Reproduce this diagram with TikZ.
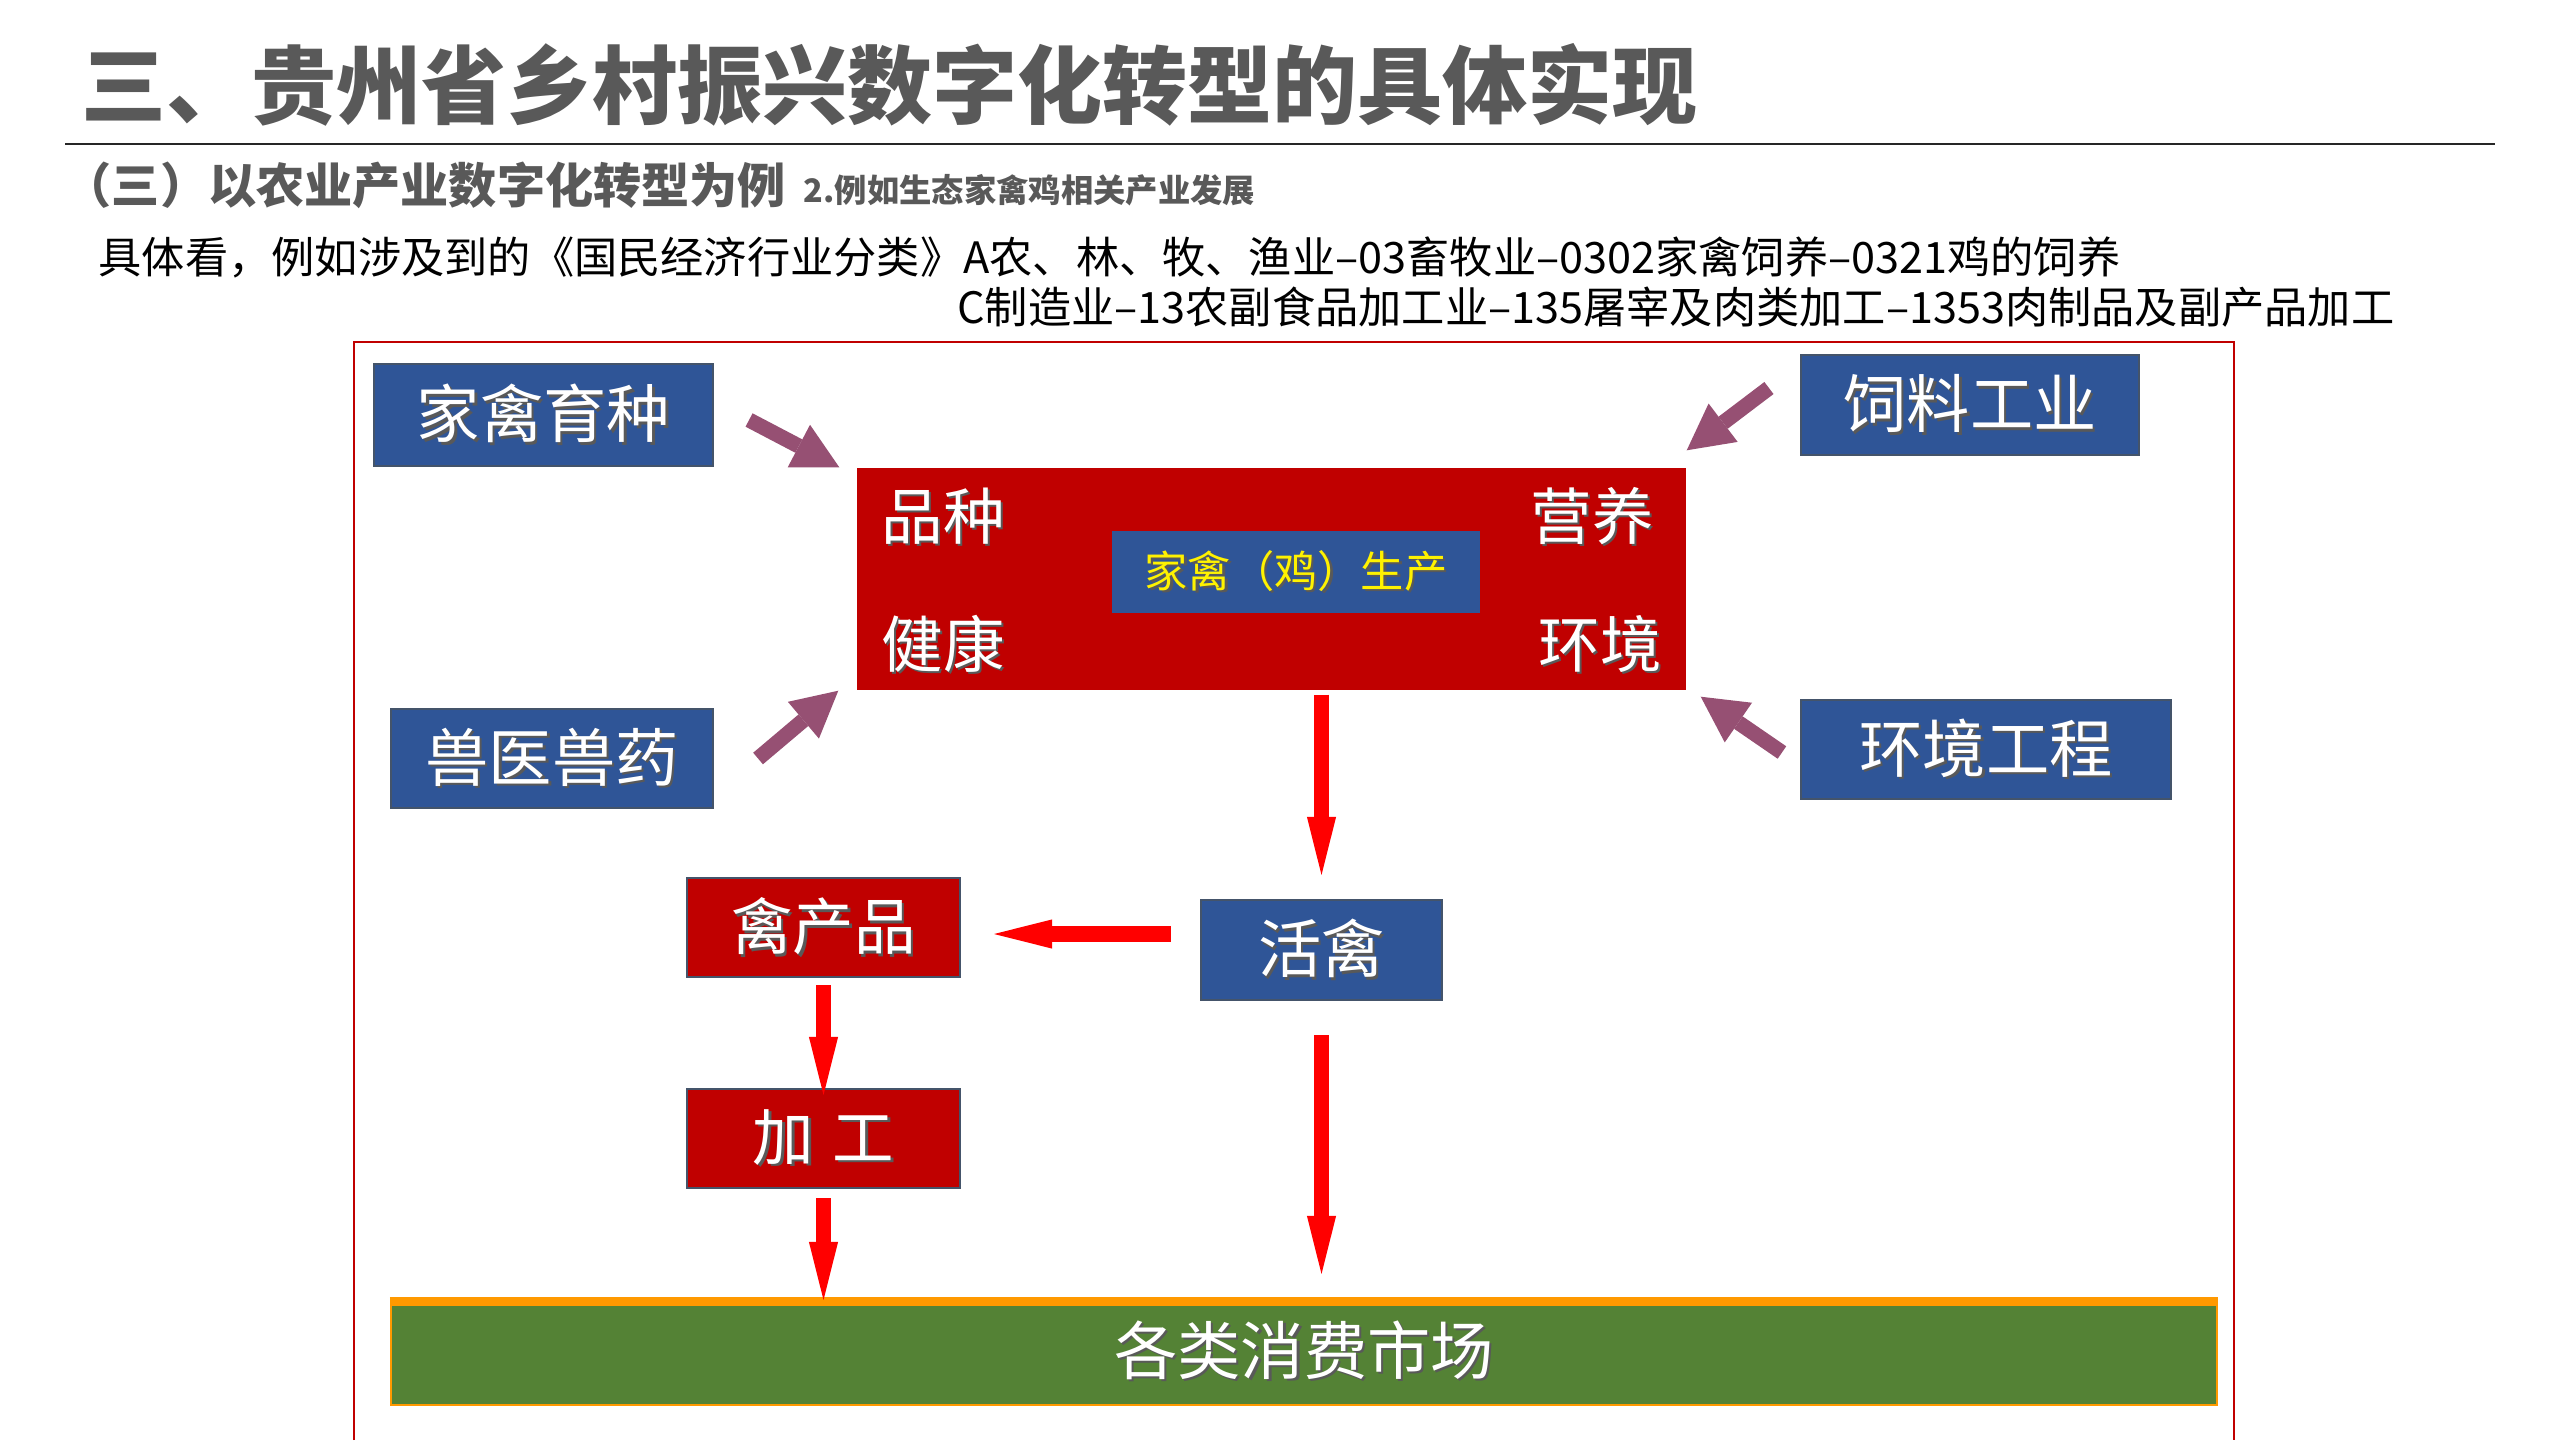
\documentclass[tikz,border=0pt]{standalone}
\usepackage{fontspec}
\setmainfont{Noto Sans CJK SC}
\usetikzlibrary{arrows.meta}
\definecolor{titlegray}{RGB}{89,89,89}
\definecolor{boxblue}{RGB}{47,85,151}
\definecolor{boxedge}{RGB}{68,84,106}
\definecolor{darkred}{RGB}{192,0,0}
\definecolor{plum}{RGB}{150,80,115}
\definecolor{marketgreen}{RGB}{84,130,53}
\definecolor{marketorange}{RGB}{255,153,0}
\newcommand\shad[1]{\makebox[0pt][l]{\kern0.7pt\raisebox{-0.7pt}{\textcolor{black!65}{#1}}}#1}

\begin{document}
\begin{tikzpicture}[
    bluebox/.style={draw=boxedge,line width=0.6pt,fill=boxblue,text=white,inner sep=0pt,font=\fontsize{18}{20}\selectfont},
    redbox/.style={draw=boxedge,line width=0.6pt,fill=darkred,text=white,inner sep=0pt,font=\fontsize{17.5}{20}\selectfont},
    cornerlabel/.style={text=white,inner sep=0pt,font=\fontsize{17.5}{20}\selectfont},
    inarrow/.style={draw=plum,line width=4.3pt,-{Triangle[width=13.7pt,length=13pt,line width=0pt]}},
    flowarrow/.style={draw=red,line width=4.5pt,-{Triangle[width=8.3pt,length=16.5pt,line width=0pt]}}]
    \useasboundingbox (0,0) rectangle (25.6,-14.4);
    \node[anchor=west,inner sep=0pt,text=titlegray,font=\fontsize{24.2}{28}\selectfont\bfseries] (title) at (0.81,-0.85) {三、贵州省乡村振兴数字化转型的具体实现};
    \draw[line width=0.5pt,black!85] (0.65,-1.44) -- (24.95,-1.44);
    \node[anchor=west,inner sep=0pt,text=titlegray,font=\fontsize{13.7}{16}\selectfont\bfseries] (sub) at (0.63,-1.85) {（三）以农业产业数字化转型为例};
    \node[anchor=west,inner sep=0pt,text=titlegray,font=\fontsize{9.2}{11}\selectfont\bfseries] (subb) at (8.03,-1.90) {2.例如生态家禽鸡相关产业发展};
    \node[anchor=base west,inner sep=0pt,font=\fontsize{12.3}{14.2}\selectfont] (clsa) at (0.98,-2.73) {具体看，例如涉及到的《国民经济行业分类》A农、林、牧、渔业–03畜牧业–0302家禽饲养–0321鸡的饲养};
    \node[anchor=base west,inner sep=0pt,font=\fontsize{12.3}{14.2}\selectfont] (clsb) at ([shift={(-0.06,-0.5)}]clsa.base west) {\hphantom{具体看，例如涉及到的《国民经济行业分类》}C制造业–13农副食品加工业–135屠宰及肉类加工–1353肉制品及副产品加工};
    \draw[darkred,line width=0.6pt] (3.54,-14.4) -- (3.54,-3.42) -- (22.34,-3.42) -- (22.34,-14.4);
    \node[bluebox,minimum width=3.39cm,minimum height=1.02cm] (breed) at (5.435,-4.15) {\shad{家禽育种}};
    \node[bluebox,minimum width=3.38cm,minimum height=1.00cm] (feed) at (19.70,-4.05) {\shad{饲料工业}};
    \node[bluebox,minimum width=3.22cm,minimum height=0.99cm] (vet) at (5.52,-7.585) {\shad{兽医兽药}};
    \node[bluebox,minimum width=3.70cm,minimum height=0.99cm] (enveng) at (19.86,-7.495) {\shad{环境工程}};
    \node[fill=darkred,inner sep=0pt,minimum width=8.29cm,minimum height=2.22cm] (core) at (12.715,-5.79) {};
    \node[fill=boxblue,text=yellow,inner sep=0pt,minimum width=3.68cm,minimum height=0.82cm,font=\fontsize{12.3}{14}\selectfont] (chick) at (12.96,-5.72) {\shad{家禽（鸡）生产}};
    \node[cornerlabel] (kind) at (9.43,-5.17) {\shad{品种}};
    \node[cornerlabel] (feedlbl) at (15.92,-5.17) {\shad{营养}};
    \node[cornerlabel] (health) at (9.43,-6.45) {\shad{健康}};
    \node[cornerlabel] (envlbl) at (16.00,-6.45) {\shad{环境}};
    \node[redbox,minimum width=2.73cm,minimum height=0.99cm] (prod) at (8.235,-9.275) {\shad{禽产品}};
    \node[bluebox,minimum width=2.41cm,minimum height=1.00cm] (live) at (13.215,-9.50) {\shad{活禽}};
    \node[redbox,minimum width=2.73cm,minimum height=0.99cm] (proc) at (8.235,-11.385) {\shad{加\hspace{0.3em}工}};
    \node[fill=marketgreen,draw=marketorange,line width=0.6pt,text=white,inner sep=0pt,minimum width=18.26cm,minimum height=1.07cm,font=\fontsize{18}{20}\selectfont] (market) at (13.04,-13.515) {\shad{各类消费市场}};
    \draw[marketorange,line width=2.6pt] ([yshift=-1.3pt]market.north west) -- ([yshift=-1.3pt]market.north east);
    \draw[inarrow] ([shift={(0.35,-0.05)}]breed.east) -- ([shift={(-0.17,0)}]core.north west);
    \draw[inarrow] ([shift={(-0.31,0.17)}]feed.west) -- ([shift={(0,0.17)}]core.north east);
    \draw[inarrow] ([shift={(0.44,0)}]vet.east) -- ([shift={(-0.18,0)}]core.south west);
    \draw[inarrow] ([shift={(-0.18,-0.03)}]enveng.west) -- ([shift={(0.14,-0.06)}]core.south east);
    \draw[flowarrow,shorten <=0.04cm,shorten >=0.24cm] (live.north |- core.south) -- (live.north);
    \draw[flowarrow,shorten <=0.29cm,shorten >=0.33cm] ([yshift=0.16cm]live.west) -- ([yshift=-0.065cm]prod.east);
    \draw[flowarrow,shorten <=0.07cm,shorten >=-0.07cm] (prod.south) -- (proc.north);
    \draw[flowarrow,shorten <=0.09cm,shorten >=-0.03cm] (proc.south) -- (proc.south |- market.north);
    \draw[flowarrow,shorten <=0.34cm,shorten >=0.23cm] (live.south) -- (live.south |- market.north);
\end{tikzpicture}
\end{document}
